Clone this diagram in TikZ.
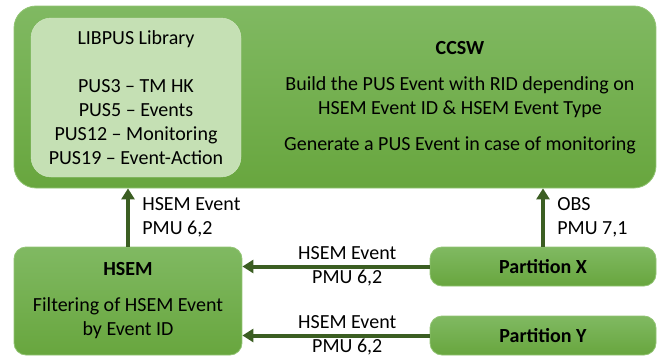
\documentclass[tikz,border=0pt]{standalone}
\usepackage{fontspec}
\setmainfont{Carlito}
\usetikzlibrary{arrows.meta}

\definecolor{boxtop}{RGB}{128,185,98}
\definecolor{boxbot}{RGB}{104,166,62}
\definecolor{boxedge}{RGB}{146,196,116}
\definecolor{libfill}{RGB}{197,224,180}
\definecolor{flowcol}{RGB}{59,94,34}

\tikzset{
  box/.style={rounded corners=#1,top color=boxtop,bottom color=boxbot,draw=boxedge,line width=0.8pt},
  box/.default=12pt,
  libbox/.style={rounded corners=20pt,fill=libfill,draw=libfill!80!white},
  flow/.style={draw=flowcol,line width=4pt,-{Triangle[width=13pt,length=11pt]}},
  lbl/.style={font=\fontsize{20}{24}\selectfont,align=#1},
  lbl/.default=center
}

\begin{document}
\begin{tikzpicture}[x=1pt,y=-1pt]
  \useasboundingbox (0,0) rectangle (659,356);
  % boxes
  \node[box=22pt,minimum width=642pt,minimum height=182pt] (ccsw) at (335,97) {};
  \node[libbox,minimum width=210pt,minimum height=159pt] (lib) at (136,97.5) {};
  \node[box,minimum width=228pt,minimum height=108pt] (hsem) at (128,301) {};
  \node[box,minimum width=226pt,minimum height=39pt] (partx) at (543,266.5) {};
  \node[box,minimum width=226pt,minimum height=39pt] (party) at (543,335.5) {};
  % texts
  \node[lbl] (libtext) at (lib) {LIBPUS Library\\[24pt]
    PUS3 – TM HK\\PUS5 – Events\\PUS12 – Monitoring\\PUS19 – Event-Action};
  \node[lbl] (ccswtext) at (460,98) {\textbf{CCSW}\\[12pt]
    Build the PUS Event with RID depending on\\HSEM Event ID \& HSEM Event Type\\[12pt]
    Generate a PUS Event in case of monitoring};
  \node[lbl] (hsemtext) at (hsem) {\textbf{HSEM}\\[12pt]Filtering of HSEM Event\\by Event ID};
  \node[lbl] (partxtext) at (partx) {\textbf{Partition X}};
  \node[lbl] (partytext) at (party) {\textbf{Partition Y}};
  % flows
  \path[flow] (hsem.north) -- node[lbl=left,right=9pt] {HSEM Event\\PMU 6,2} (hsem.north |- ccsw.south);
  \path[flow] (partx.north) -- node[lbl=left,right=9pt] {OBS\\PMU 7,1} (partx.north |- ccsw.south);
  \path[flow] (partx.west) -- node[lbl,pos=0.44] {HSEM Event\\PMU 6,2} (partx.west -| hsem.east);
  \path[flow] (party.west) -- node[lbl,pos=0.44] {HSEM Event\\PMU 6,2} (party.west -| hsem.east);
\end{tikzpicture}
\end{document}
